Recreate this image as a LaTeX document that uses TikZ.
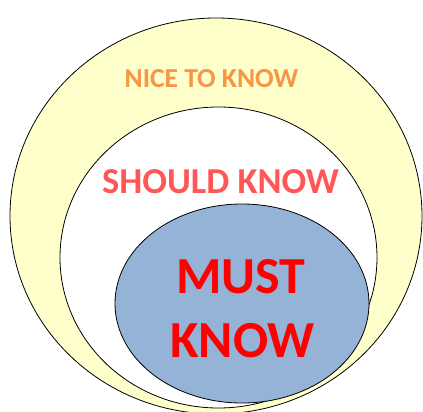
\documentclass[tikz,border=0pt]{standalone}
\usepackage{fontspec}
\setmainfont{Carlito}
\definecolor{nicefill}{HTML}{FFFFCC}
\definecolor{mustfill}{HTML}{95B3D7}
\definecolor{niceorange}{HTML}{F79646}
\definecolor{shouldred}{HTML}{FF5757}
\definecolor{mustred}{HTML}{FF0000}
\begin{document}
\begin{tikzpicture}[x=1pt,y=-1pt,
  ring/.style={draw=black,line width=0.8pt},
  lbl/.style={inner sep=0pt,anchor=base}]
\useasboundingbox (0,0) rectangle (423,412);
\clip (0,0) rectangle (423,412);
\fill[white] (0,0) rectangle (423,412);
\draw[ring,fill=nicefill] (216,216) ellipse [x radius=206,y radius=198];
\draw[ring,fill=white] (218.5,257.5) ellipse [x radius=158.5,y radius=150.5];
\draw[ring,fill=mustfill] (242,303.5) ellipse [x radius=127,y radius=99.5];
\node[lbl,text=niceorange,font=\fontsize{27.5}{31}\selectfont\bfseries] (nice) at (211.5,88) {NICE TO KNOW};
\node[lbl,text=shouldred,font=\fontsize{36.5}{41}\selectfont\bfseries] (should) at (220.5,193) {SHOULD KNOW};
\node[lbl,text=mustred,font=\fontsize{52}{57}\selectfont\bfseries] (must) at (241,293) {MUST};
\node[lbl,text=mustred,font=\fontsize{52}{57}\selectfont\bfseries] (know) at (242.5,357) {KNOW};
\end{tikzpicture}
\end{document}
